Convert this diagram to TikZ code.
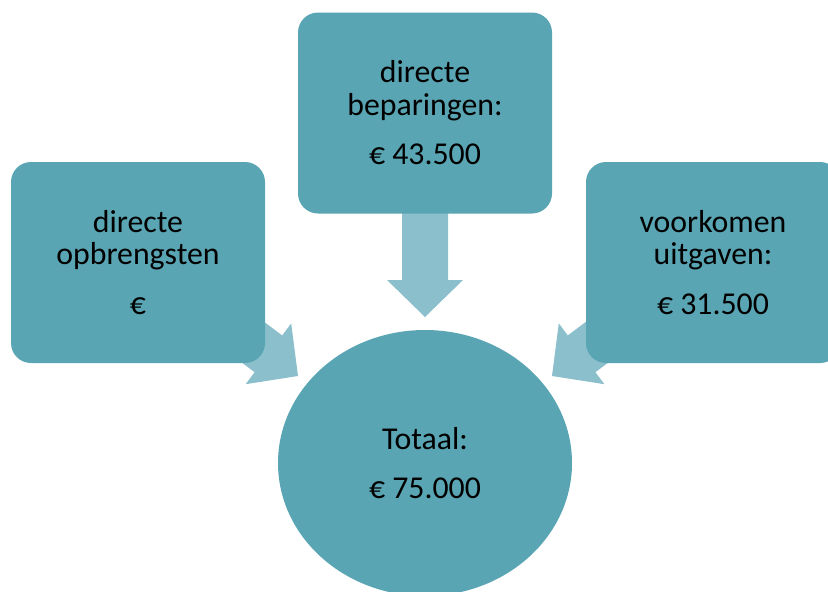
\documentclass[tikz,border=0pt]{standalone}
\usepackage{fontspec}
\setmainfont{Carlito}
\usetikzlibrary{shapes.geometric,backgrounds}
\definecolor{boxfill}{HTML}{59A5B3}
\definecolor{arrowfill}{HTML}{8BBFCB}
\begin{document}
\begin{tikzpicture}[x=1pt,y=-1pt,
  box/.style={draw=none, fill=boxfill, rounded corners=20pt, minimum width=254pt,
    minimum height=201pt, inner sep=0pt, align=center, text=black,
    font=\fontsize{31.8}{32.5}\selectfont},
  total/.style={ellipse, draw=none, fill=boxfill, minimum width=294pt, minimum height=266pt,
    inner sep=0pt, align=center, text=black, font=\fontsize{31.8}{32.5}\selectfont},
  blockarrow/.style={fill=arrowfill, draw=none}]
\useasboundingbox (0,0) rectangle (828,592);
\clip (0,0) rectangle (828,592);

\node[box] (left) at (138,262.5) {directe\\opbrengsten\\[17pt]€};
\node[box] (top) at (425,113) {directe\\beparingen:\\[17pt]€ 43.500};
\node[box] (right) at (713,262.5) {voorkomen\\uitgaven:\\[17pt]€ 31.500};
\node[total] (tot) at (425,463) {Totaal:\\[17pt]€ 75.000};

\begin{scope}[on background layer]
  % top arrow
  \coordinate (ttip) at (425,317);
  \fill[blockarrow] (402,200) -- (402,280) -- (387,280) -- (ttip) -- (463,280) -- (448,280) -- (448,200) -- cycle;
  % left arrow
  \coordinate (ltip) at (298,376);
  \fill[blockarrow] (202.2,275.4) -- (282.2,335.4) -- (291.2,323.4) -- (ltip) -- (245.6,384.2) -- (254.6,372.2) -- (174.6,312.2) -- cycle;
  % right arrow
  \coordinate (rtip) at (552,376);
  \fill[blockarrow] (647.8,275.4) -- (567.8,335.4) -- (558.8,323.4) -- (rtip) -- (604.4,384.2) -- (595.4,372.2) -- (675.4,312.2) -- cycle;
\end{scope}
\end{tikzpicture}
\end{document}
